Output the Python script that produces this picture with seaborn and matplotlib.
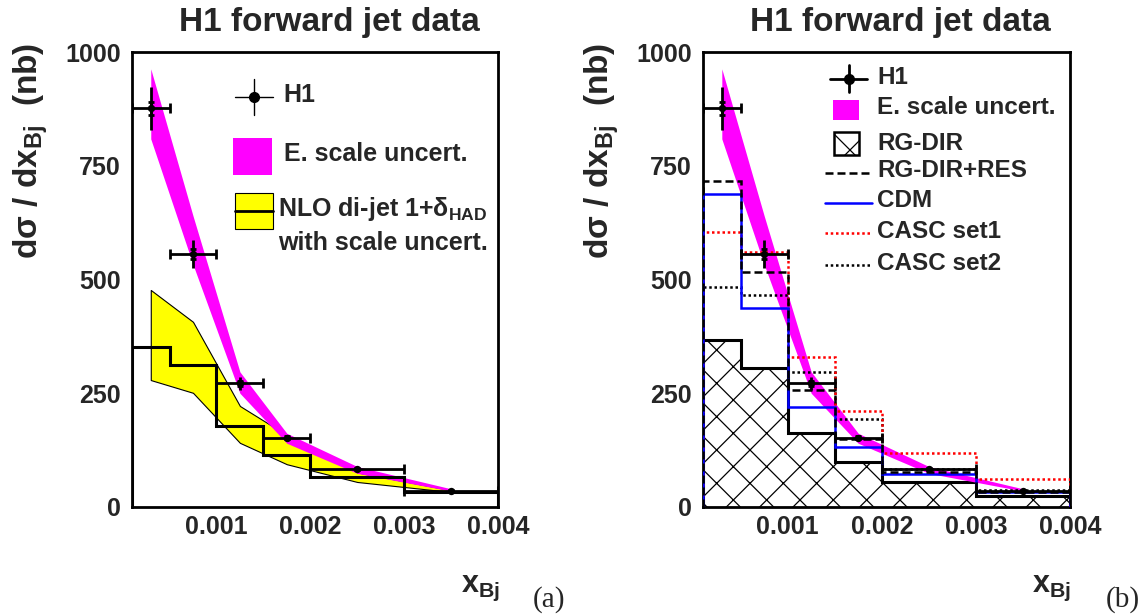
import matplotlib
matplotlib.use("Agg")
import matplotlib.pyplot as plt
from matplotlib.patches import Rectangle
from matplotlib.lines import Line2D
from matplotlib.ticker import FixedLocator, FixedFormatter
import seaborn as sns

# x_Bj binning
bin_edges = [0.0001, 0.0005, 0.001, 0.0015, 0.002, 0.003, 0.004]
bin_centres = [0.0003, 0.00075, 0.00125, 0.00175, 0.0025, 0.0035]

# H1 measurement (nb)
h1_xsec = [876, 556, 272, 152, 83, 36]
h1_err_tot = [47, 30, 14, 7, 5, 3]
h1_err_stat = [15, 11, 6, 3, 2, 1]

# energy scale uncertainty band
escale_up = [963, 640, 297, 162, 89, 40]
escale_down = [809, 533, 250, 140, 74, 35]

# NLO di-jet prediction with scale uncertainty
nlo_xsec = [352, 312, 177, 114, 67, 34]
nlo_up = [477, 407, 222, 158, 76, 37]
nlo_down = [279, 251, 141, 94, 55, 33]

# Monte Carlo models
rg_dir = [366, 305, 162, 100, 54, 25]
rg_dir_res = [717, 517, 258, 149, 78, 34]
cdm = [688, 437, 220, 131, 72, 34]
casc_set1 = [604, 560, 329, 211, 119, 61]
casc_set2 = [483, 466, 296, 193, 84, 38]

y_ticks = [0, 250, 500, 750, 1000]
y_ticklabels = ["0", "250", "500", "750", "1000"]
x_ticks = [0.001, 0.002, 0.003, 0.004]
x_ticklabels = ["0.001", "0.002", "0.003", "0.004"]

MAGENTA = "#ff00ff"
YELLOW = "#ffff00"
BLUE = "#0000ff"
RED = "#ff0000"

sns.set_theme(style="white")
plt.rcParams["font.family"] = ["Liberation Sans", "DejaVu Sans"]
plt.rcParams["font.weight"] = "bold"
plt.rcParams["mathtext.fontset"] = "custom"
plt.rcParams["mathtext.rm"] = "Liberation Sans:bold"
plt.rcParams["mathtext.it"] = "Liberation Sans:bold"
plt.rcParams["mathtext.bf"] = "Liberation Sans:bold"
plt.rcParams["mathtext.sf"] = "Liberation Sans:bold"
plt.rcParams["hatch.linewidth"] = 0.9
plt.rcParams["hatch.color"] = "black"

LEG_A = 18
LEG_B = 17.5

fig = plt.figure(figsize=(11.47, 6.15), dpi=100)
ax_a = fig.add_axes([132 / 1147, 1 - 507 / 615, 366 / 1147, 455 / 615])
ax_b = fig.add_axes([703 / 1147, 1 - 507 / 615, 367 / 1147, 455 / 615])

xlo = [c - e for c, e in zip(bin_centres, bin_edges[:-1])]
xhi = [e - c for c, e in zip(bin_centres, bin_edges[1:])]


def style_axes(ax):
    ax.set_xlim(bin_edges[0], bin_edges[-1])
    ax.set_ylim(0, 1000)
    ax.xaxis.set_major_locator(FixedLocator(x_ticks))
    ax.xaxis.set_major_formatter(FixedFormatter(x_ticklabels))
    ax.yaxis.set_major_locator(FixedLocator(y_ticks))
    ax.yaxis.set_major_formatter(FixedFormatter(y_ticklabels))
    ax.tick_params(axis="both", direction="in", length=13, width=0.8,
                   color="#444444", labelsize=18)
    ax.tick_params(axis="y", pad=8)
    ax.tick_params(axis="x", pad=6)
    for lab in ax.get_xticklabels() + ax.get_yticklabels():
        lab.set_fontweight("bold")
    for sp in ax.spines.values():
        sp.set_linewidth(2.0)
        sp.set_color("black")
        sp.set_visible(True)
    ax.set_xlabel("")
    ax.set_ylabel("")


def draw_h1(ax):
    ax.errorbar(bin_centres, h1_xsec, xerr=[xlo, xhi], fmt="none",
                ecolor="black", elinewidth=2.0, capsize=3.5, capthick=2.0,
                zorder=10)
    ax.errorbar(bin_centres, h1_xsec, yerr=h1_err_tot, fmt="none",
                ecolor="black", elinewidth=2.0, capsize=0, zorder=10)
    ax.errorbar(bin_centres, h1_xsec, yerr=h1_err_stat, fmt="none",
                ecolor="black", elinewidth=2.0, capsize=2.5, capthick=2.0,
                zorder=10)
    sns.scatterplot(x=bin_centres, y=h1_xsec, ax=ax, color="black", s=28,
                    edgecolor="black", linewidth=0, zorder=11, legend=False)


def draw_escale(ax):
    ax.fill_between(bin_centres, escale_down, escale_up, color=MAGENTA,
                    linewidth=0, zorder=3)


# ---- panel (a): data vs NLO ----
ax = ax_a
ax.fill_between(bin_centres, nlo_down, nlo_up, facecolor=YELLOW,
                edgecolor="black", linewidth=0.8, zorder=2)
draw_escale(ax)
ax.stairs(nlo_xsec, bin_edges, baseline=0, color="black", linewidth=2.2,
          zorder=5)
draw_h1(ax)
style_axes(ax)

T = ax.transAxes
ax.add_line(Line2D([0.281, 0.384], [0.902, 0.902], transform=T,
                   color="black", lw=1.0))
ax.add_line(Line2D([0.333, 0.333], [0.862, 0.940], transform=T,
                   color="black", lw=1.0))
ax.add_line(Line2D([0.333], [0.902], transform=T, color="black",
                   marker="o", markersize=7, lw=0))
ax.text(0.414, 0.905, "H1", transform=T, fontsize=LEG_A, fontweight="bold",
        va="center", ha="left")
ax.add_patch(Rectangle((0.277, 0.730), 0.105, 0.082, transform=T,
                       facecolor=MAGENTA, edgecolor="none"))
ax.text(0.414, 0.776, "E. scale uncert.", transform=T, fontsize=LEG_A,
        fontweight="bold", va="center", ha="left")
ax.add_patch(Rectangle((0.282, 0.610), 0.102, 0.081, transform=T,
                       facecolor=YELLOW, edgecolor="black", lw=0.8))
ax.add_line(Line2D([0.282, 0.384], [0.651, 0.651], transform=T,
                   color="black", lw=2.0))
ax.text(0.400, 0.654, r"NLO di-jet 1+$\delta_{\mathrm{HAD}}$", transform=T,
        fontsize=LEG_A, fontweight="bold", va="center", ha="left")
ax.text(0.400, 0.580, "with scale uncert.", transform=T, fontsize=LEG_A,
        fontweight="bold", va="center", ha="left")

# ---- panel (b): data vs Monte Carlo models ----
ax = ax_b
ax.stairs(rg_dir, bin_edges, baseline=0, fill=True, facecolor="white",
          edgecolor="black", hatch="x", linewidth=2.2, zorder=2)
draw_escale(ax)
ax.stairs(casc_set2, bin_edges, baseline=0, color="black", linewidth=1.8,
          linestyle=(0, (1.0, 1.1)), zorder=5)
ax.stairs(casc_set1, bin_edges, baseline=0, color=RED, linewidth=1.8,
          linestyle=(0, (1.0, 1.1)), zorder=5)
ax.stairs(cdm, bin_edges, baseline=0, color=BLUE, linewidth=1.8, zorder=5)
ax.stairs(rg_dir_res, bin_edges, baseline=0, color="black", linewidth=1.8,
          linestyle=(0, (3.2, 1.6)), zorder=6)
draw_h1(ax)
style_axes(ax)

T = ax.transAxes
ax.add_line(Line2D([0.346, 0.447], [0.941, 0.941], transform=T,
                   color="black", lw=2.0))
ax.add_line(Line2D([0.398, 0.398], [0.912, 0.971], transform=T,
                   color="black", lw=2.0))
ax.add_line(Line2D([0.398], [0.941], transform=T, color="black",
                   marker="o", markersize=7, lw=0))
ax.text(0.474, 0.945, "H1", transform=T, fontsize=LEG_B, fontweight="bold",
        va="center", ha="left")
ax.add_patch(Rectangle((0.354, 0.851), 0.071, 0.044, transform=T,
                       facecolor=MAGENTA, edgecolor="none"))
ax.text(0.474, 0.877, "E. scale uncert.", transform=T, fontsize=LEG_B,
        fontweight="bold", va="center", ha="left")
ax.add_patch(Rectangle((0.357, 0.774), 0.068, 0.050, transform=T,
                       facecolor="white", edgecolor="black", hatch="x",
                       lw=1.8))
ax.text(0.474, 0.798, "RG-DIR", transform=T, fontsize=LEG_B,
        fontweight="bold", va="center", ha="left")
model_rows = [
    ("RG-DIR+RES", "black", (0, (3.2, 1.6)), 0.735),
    ("CDM", BLUE, "-", 0.669),
    ("CASC set1", RED, (0, (1.0, 1.1)), 0.602),
    ("CASC set2", "black", (0, (1.0, 1.1)), 0.532),
]
for label, col, ls, yy in model_rows:
    ax.add_line(Line2D([0.332, 0.460], [yy, yy], transform=T, color=col,
                       lw=1.8, linestyle=ls))
    ax.text(0.474, yy + 0.004, label, transform=T, fontsize=LEG_B,
            fontweight="bold", va="center", ha="left")

# ---- titles, axis titles, panel tags ----
for xc in (329 / 1147, 900 / 1147):
    fig.text(xc, 1 - 23 / 615, "H1 forward jet data", fontsize=24,
             fontweight="bold", ha="center", va="center")
for xc in (31 / 1147, 602 / 1147):
    fig.text(xc, 1 - 43 / 615,
             r"d$\sigma$ / dx$_{\mathrm{Bj}}$  (nb)", fontsize=24,
             fontweight="bold", rotation=90, ha="center", va="top")
for xr in (500 / 1147, 1071 / 1147):
    fig.text(xr, 1 - 592 / 615, r"x$_{\mathrm{Bj}}$", fontsize=22,
             fontweight="bold", ha="right", va="baseline")
for xl, tag in ((533 / 1147, "(a)"), (1106 / 1147, "(b)")):
    fig.text(xl, 1 - 607 / 615, tag, fontsize=21, ha="left", va="baseline",
             family=["Liberation Serif", "DejaVu Serif"], fontweight="normal")

fig.savefig("out.png", dpi=100)
